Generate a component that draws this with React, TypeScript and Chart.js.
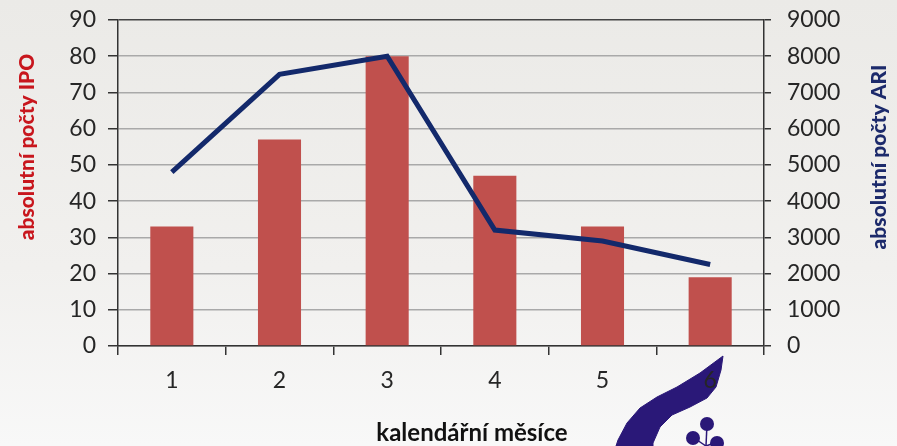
import React, { useEffect, useRef } from "react";
import { Chart, registerables } from "chart.js";

Chart.register(...registerables);

const months = ["1", "2", "3", "4", "5", "6"];
const ipoCounts = [33, 57, 80, 47, 33, 19];
const ariCounts = [4800, 7500, 8000, 3200, 2900, 2250];
const leftTitle = "absolutní počty IPO";
const rightTitle = "absolutní počty ARI";
const xTitle = "kalendářní měsíce";

const FONT = "Lato, 'Open Sans', sans-serif";

const titlePlugin = {
  id: "customTitles",
  afterDraw(chart: any) {
    const ctx = chart.ctx;
    const a = chart.chartArea;
    ctx.save();
    ctx.textAlign = "center";
    ctx.textBaseline = "middle";
    ctx.font = `900 21px ${FONT}`;
    // left
    ctx.save();
    ctx.translate(27, a.top + 127);
    ctx.rotate(-Math.PI / 2);
    ctx.fillStyle = "#c8161d";
    ctx.fillText(leftTitle, 0, 0);
    ctx.restore();
    // right
    ctx.save();
    ctx.translate(a.right + 115, a.top + 137);
    ctx.rotate(-Math.PI / 2);
    ctx.fillStyle = "#1c2a6b";
    ctx.fillText(rightTitle, 0, 0);
    ctx.restore();
    // bottom
    ctx.font = `bold 24px ${FONT}`;
    ctx.fillStyle = "#111111";
    ctx.fillText(xTitle, 472, a.bottom + 87);
    ctx.restore();
  },
};

export default function App() {
  const ref = useRef<HTMLCanvasElement | null>(null);

  useEffect(() => {
    if (!ref.current) return;
    const chart = new Chart(ref.current, {
      type: "bar",
      data: {
        labels: months,
        datasets: [
          {
            type: "line",
            label: "ARI",
            data: ariCounts,
            yAxisID: "y2",
            borderColor: "#13296b",
            borderWidth: 5,
            pointRadius: 0,
            tension: 0,
            fill: false,
            order: 0,
          } as any,
          {
            type: "bar",
            label: "IPO",
            data: ipoCounts,
            yAxisID: "y",
            backgroundColor: "#c0504d",
            barPercentage: 0.4,
            categoryPercentage: 1,
            order: 1,
          },
        ],
      },
      options: {
        responsive: false,
        animation: false,
        layout: { padding: { top: 20, left: 0, right: 0, bottom: 0 } },
        plugins: { legend: { display: false }, tooltip: { enabled: false } },
        scales: {
          x: {
            offset: true,
            grid: {
              offset: true,
              drawOnChartArea: false,
              drawTicks: true,
              tickLength: 9,
              tickColor: "#333333",
              lineWidth: 1.5,
            },
            border: { display: true, color: "#333333", width: 1.5 },
            ticks: { color: "#262626", font: { family: FONT, size: 23 }, padding: 12 },
            afterFit: (s: any) => {
              s.height = 100;
              s.paddingLeft = 0;
              s.paddingRight = 0;
            },
          },
          y: {
            position: "left",
            min: 0,
            max: 90,
            ticks: { stepSize: 10, color: "#262626", font: { family: FONT, size: 23 }, padding: 12 },
            grid: {
              color: (c: any) => (c.tick && c.tick.value === 90 ? "#444444" : "#a9a9a9"),
              lineWidth: 1.5,
              tickLength: 10,
              tickColor: "#333333",
            },
            border: { display: true, color: "#333333", width: 1.5 },
            afterFit: (s: any) => {
              s.width = 118;
              s.paddingTop = 0;
              s.paddingBottom = 0;
            },
          },
          y2: {
            position: "right",
            min: 0,
            max: 9000,
            ticks: {
              stepSize: 1000,
              color: "#262626",
              font: { family: FONT, size: 23 },
              padding: 16,
              callback: (v: any) => String(v),
            },
            grid: {
              drawOnChartArea: false,
              tickLength: 7,
              tickColor: "#333333",
              lineWidth: 1.5,
            },
            border: { display: true, color: "#333333", width: 1.5 },
            afterFit: (s: any) => {
              s.width = 133;
              s.paddingTop = 0;
              s.paddingBottom = 0;
            },
          },
        },
      },
      plugins: [titlePlugin],
    });
    return () => chart.destroy();
  }, []);

  return (
    <div
      style={{
        position: "fixed",
        left: 0,
        top: 0,
        width: 897,
        height: 446,
        overflow: "hidden",
        background: "linear-gradient(#ebeae7, #f1f0ee 60%, #f8f8f8)",
      }}
    >
      <svg
        width={897}
        height={446}
        style={{ position: "absolute", left: 0, top: 0, pointerEvents: "none" }}
      >
        <path
          d="M723,356 L700,373 L677,387 L657,397 L640,408 L627,423 L618,440 L616,446 L653,446 L653,443 L660,427 L672,415 L690,407 L707,398 L716,387 L721,370 Z"
          fill="#2a1878"
          stroke="#2a1878"
          strokeLinejoin="round"
          strokeWidth={1}
        />
        <g stroke="#2a1878" strokeWidth={1.5} fill="none">
          <path d="M706,446 L707,424" />
          <path d="M706,446 L694,438" />
          <path d="M706,446 L717,442" />
        </g>
        <g fill="#2a1878">
          <circle cx={707} cy={424} r={7} />
          <circle cx={693} cy={438} r={7} />
          <circle cx={717} cy={443} r={7} />
        </g>
      </svg>
      <canvas ref={ref} width={897} height={446} style={{ position: "absolute", left: 0, top: 0 }} />
    </div>
  );
}
